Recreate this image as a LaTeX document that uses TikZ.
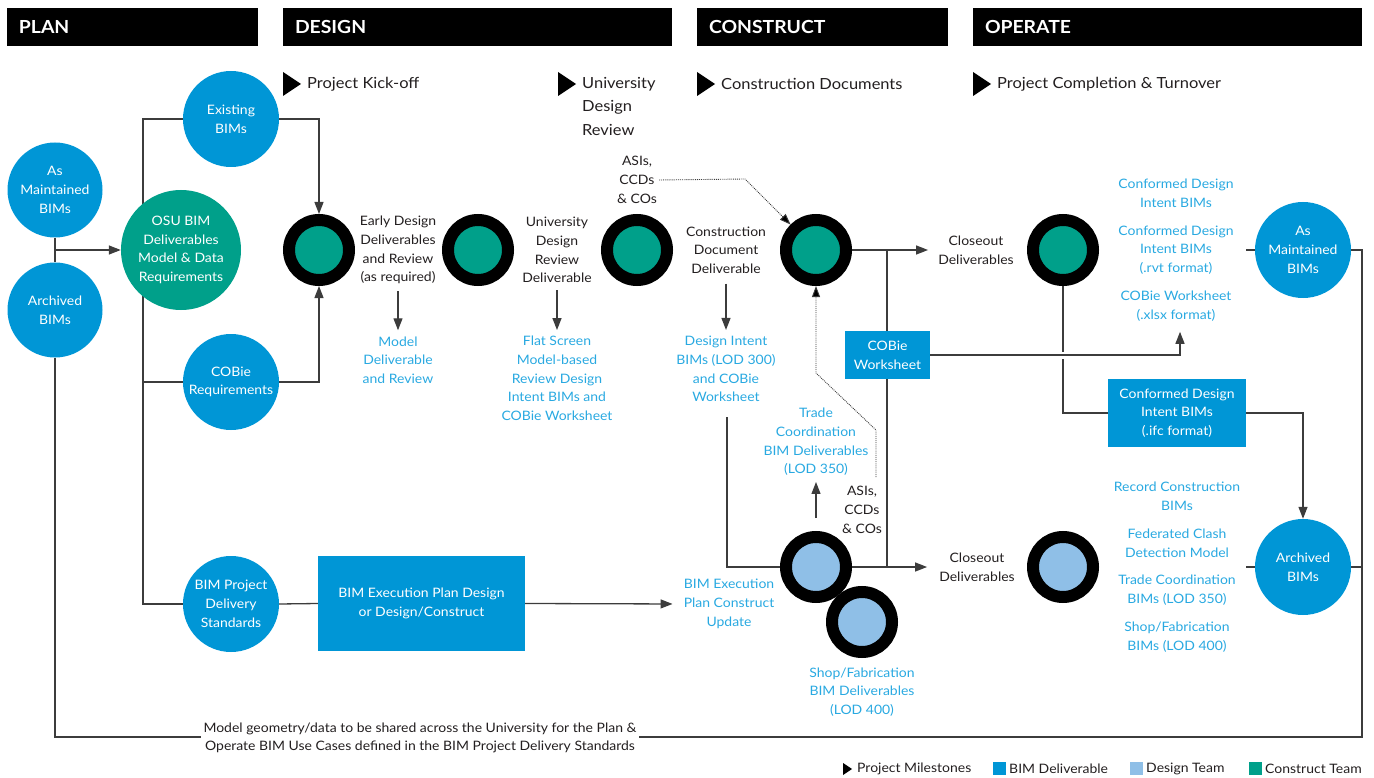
\documentclass[tikz,border=0pt]{standalone}
\usepackage{fontspec}
\setmainfont{Lato}[FakeStretch=1.075]
\usetikzlibrary{arrows.meta,backgrounds,calc}

\definecolor{bimblue}{HTML}{0096D6}
\definecolor{designblue}{HTML}{8FBFE7}
\definecolor{constructgreen}{HTML}{00A08A}
\definecolor{labelblue}{HTML}{29A9E1}
\definecolor{linegray}{HTML}{3C3C3C}
\definecolor{inkdark}{HTML}{231F20}

\tikzset{
  bodyfont/.style={font=\fontsize{13}{18.7}\selectfont},
  hdr/.style={rectangle, fill=black, text=white, minimum height=38pt, inner xsep=12pt,
    align=left, font=\fontsize{18}{20}\selectfont\bfseries},
  mtxt/.style={text=inkdark, inner sep=2pt, font=\fontsize{15.3}{23.5}\selectfont},
  txt/.style={bodyfont, align=center, inner sep=2pt, text=inkdark},
  btxt/.style={txt, text=labelblue},
  bcirc/.style={circle, fill=bimblue, minimum size=96pt, inner sep=0pt, align=center,
    text=white, bodyfont},
  gcirc/.style={bcirc, fill=constructgreen},
  ring/.style={circle, draw=black, line width=12pt, minimum size=60pt, inner sep=0pt},
  cring/.style={ring, fill=constructgreen},
  dring/.style={ring, fill=designblue},
  dbox/.style={rectangle, fill=bimblue, text=white, align=center, inner sep=0pt, bodyfont},
  ln/.style={draw=linegray, line width=1.3pt},
  arr/.style={ln, -{Triangle[length=12pt,width=9pt]}},
  dotln/.style={draw=linegray, line width=0.9pt, densely dotted,
    -{Triangle[length=11pt,width=8pt,open,fill=black]}},
  legsq/.style={rectangle, minimum size=13pt, inner sep=0pt},
  mtri/.pic={\fill[black] (0,-12) -- (18,0) -- (0,12) -- cycle;},
  ltri/.pic={\fill[black] (0,-6) -- (9,0) -- (0,6) -- cycle;}
}

\begin{document}
\begin{tikzpicture}[x=1pt,y=-1pt]
\useasboundingbox (0,0) rectangle (1374,778);

% phase headers
\node[hdr, text width=227pt] (hPlan) at (132.5,27) {PLAN};
\node[hdr, text width=365pt] (hDesign) at (477.5,27) {DESIGN};
\node[hdr, text width=227pt] (hConstruct) at (822.5,27) {CONSTRUCT};
\node[hdr, text width=365pt] (hOperate) at (1167.5,27) {OPERATE};

% milestones
\pic at (283,84) {mtri};
\node[mtxt, anchor=west] (msKick) at (305,84) {Project Kick-off};
\pic at (558,84) {mtri};
\node[mtxt, anchor=north west, align=left] (msUDR) at (580,75) {University\\Design\\Review};
\pic at (697,84) {mtri};
\node[mtxt, anchor=west] (msCD) at (719,84) {Construction Documents};
\pic at (973,84) {mtri};
\node[mtxt, anchor=west] (msPC) at (995,84) {Project Completion \& Turnover};

% plan column
\node[bcirc, minimum size=95pt] (AM1) at (55,190) {As\\Maintained\\BIMs};
\node[bcirc, minimum size=95pt] (AR1) at (55,310) {Archived\\BIMs};
\node[bcirc] (EX) at (231,119) {Existing\\BIMs};
\node[gcirc, minimum size=120pt] (OSU) at (181,250) {OSU BIM\\Deliverables\\Model \& Data\\Requirements};
\node[bcirc] (COB) at (231,382) {COBie\\Requirements};
\node[bcirc] (BPDS) at (231,604) {BIM Project\\Delivery\\Standards};
\node[dbox, minimum width=207pt, minimum height=95pt] (BEP) at (421.5,603.5) {BIM Execution Plan Design\\or Design/Construct};

% milestone rings
\node[cring] (M1) at (319,250) {};
\node[cring] (M2) at (478,250) {};
\node[cring] (M3) at (637,250) {};
\node[cring] (M4) at (816,250) {};
\node[cring] (M5) at (1063,250) {};
\node[dring] (D1) at (816,567) {};
\node[dring] (D2) at (862,622) {};
\node[dring] (D3) at (1063,567) {};

% design / construct labels
\node[txt] (ED) at (398,250) {Early Design\\Deliverables\\and Review\\(as required)};
\node[btxt] (MD) at (398,360) {Model\\Deliverable\\and Review};
\node[txt] (UD) at (557,250) {University\\Design\\Review\\Deliverable};
\node[btxt] (FS) at (557,378.5) {Flat Screen\\Model-based\\Review Design\\Intent BIMs and\\COBie Worksheet};
\node[txt] (AS1) at (637,180) {ASIs,\\CCDs\\\& COs};
\node[txt] (CD) at (726,250) {Construction\\Document\\Deliverable};
\node[btxt] (DI) at (726,369) {Design Intent\\BIMs (LOD 300)\\and COBie\\Worksheet};
\node[btxt] (TC) at (816,442) {Trade\\Coordination\\BIM Deliverables\\(LOD 350)};
\node[txt] (AS2) at (862,510) {ASIs,\\CCDs\\\& COs};
\node[btxt] (BEPC) at (729,604) {BIM Execution\\Plan Construct\\Update};
\node[btxt] (SF) at (862,692) {Shop/Fabrication\\BIM Deliverables\\(LOD 400)};
\node[dbox, minimum width=85pt, minimum height=48pt] (CW) at (887.5,355) {COBie\\Worksheet};

% operate column
\node[txt] (CO1) at (976,250) {Closeout\\Deliverables};
\node[txt] (CO2) at (977,567) {Closeout\\Deliverables};
\node[btxt] (OT1) at (1176,193.5) {Conformed Design\\Intent BIMs};
\node[btxt] (OT2) at (1176,250) {Conformed Design\\Intent BIMs\\(.rvt format)};
\node[btxt] (OT3) at (1176,306.5) {COBie Worksheet\\(.xlsx format)};
\node[btxt] (OB1) at (1177,496.5) {Record Construction\\BIMs};
\node[btxt] (OB2) at (1177,543.5) {Federated Clash\\Detection Model};
\node[btxt] (OB3) at (1177,590.5) {Trade Coordination\\BIMs (LOD 350)};
\node[btxt] (OB4) at (1177,637.5) {Shop/Fabrication\\BIMs (LOD 400)};
\node[dbox, minimum width=138pt, minimum height=68pt] (CF) at (1177,413) {Conformed Design\\Intent BIMs\\(.ifc format)};
\node[bcirc] (AM2) at (1303,250) {As\\Maintained\\BIMs};
\node[bcirc] (AR2) at (1303,567) {Archived\\BIMs};

% shared-data note on the return loop
\node[txt, fill=white, inner xsep=3pt] (NOTE) at (420,738) {Model geometry/data to be shared across the University for the Plan \&\\Operate BIM Use Cases defined in the BIM Project Delivery Standards};

% legend
\pic at (843,769) {ltri};
\node[txt, anchor=west] (lgM) at (855,769) {Project Milestones};
\node[legsq, fill=bimblue] (sqB) at (999.5,768.5) {};
\node[txt, anchor=west] (lgB) at (1007,769) {BIM Deliverable};
\node[legsq, fill=designblue] (sqD) at (1136.5,768.5) {};
\node[txt, anchor=west] (lgD) at (1144,769) {Design Team};
\node[legsq, fill=constructgreen] (sqC) at (1255.5,768.5) {};
\node[txt, anchor=west] (lgC) at (1263,769) {Construct Team};

% junction points
\coordinate (jL) at (55,250);
\coordinate (spT) at (143,119);
\coordinate (spB) at (143,604);
\coordinate (lB) at (55,737);
\coordinate (rB) at (1362,737);
\coordinate (rT) at (1362,250);
\coordinate (dk1) at (745,179);
\coordinate (dk2) at (876,477);
\coordinate (dk3) at (876,430);
\coordinate (dk4) at (816,373);
\coordinate (dv) at (727,417);
\coordinate (dc) at (727,567);
\coordinate (vt) at (887,250);
\coordinate (vb) at (887,567);
\coordinate (gapT) at (1063,351.5);
\coordinate (gapB) at (1063,358.5);
\coordinate (s1) at (1246,250);
\coordinate (s2) at (1246,567);

\begin{scope}[on background layer]
  % plan inputs
  \draw[ln] (AM1.south) -- (AR1.north);
  \draw[arr] (jL) -- (OSU.west);
  \draw[ln] (EX.west) -- (spT) -- (spB) -- (BPDS.west);
  \draw[ln] (COB.west) -- (COB.west -| spT);
  \draw[arr] (EX.east) -| (M1.north);
  \draw[arr] (COB.east) -| (M1.south);
  % deliverables under design milestones
  \draw[arr, shorten <=5pt, shorten >=4pt] (ED.south) -- (MD.north);
  \draw[arr, shorten <=5pt, shorten >=4pt] (UD.south) -- (FS.north);
  \draw[arr, shorten <=8pt, shorten >=4pt] (CD.south) -- (DI.north);
  % change orders
  \draw[dotln] (AS1.east) -- (dk1) -- (M4.135);
  \draw[dotln] (dk2) -- (dk3) -- (dk4) -- (M4.south);
  \draw[arr, shorten >=4pt] ([yshift=13pt]D1.north) -- (TC.south);
  % construction flow
  \draw[arr, shorten >=10pt] (dv) -- (dc) -- (CO2.west);
  \draw[ln] (vt) -- (vb);
  \draw[arr, shorten >=8pt] (M4.east) -- (CO1.west);
  \draw[ln] (BPDS.east) -- (BEP.west);
  \draw[arr, shorten >=9pt] (BEP.east) -- (BEPC.west);
  % turnover
  \draw[ln] (M5.south) |- (CF.west);
  \draw[white, line width=3pt] (gapT) -- (gapB);
  \draw[arr, shorten >=8pt] (CW.east) -| ([xshift=4pt]OT3.south);
  \draw[arr] (CF.east) -| (AR2.north);
  \draw[ln] (s1) -- (AM2.west);
  \draw[ln] (s2) -- (AR2.west);
  % return loop
  \draw[ln] (AR1.south) -- (lB) -- (rB) -- (rT) -- (AM2.east);
  \draw[ln] (AR2.east) -- (AR2.east -| rT);
\end{scope}
\end{tikzpicture}
\end{document}
